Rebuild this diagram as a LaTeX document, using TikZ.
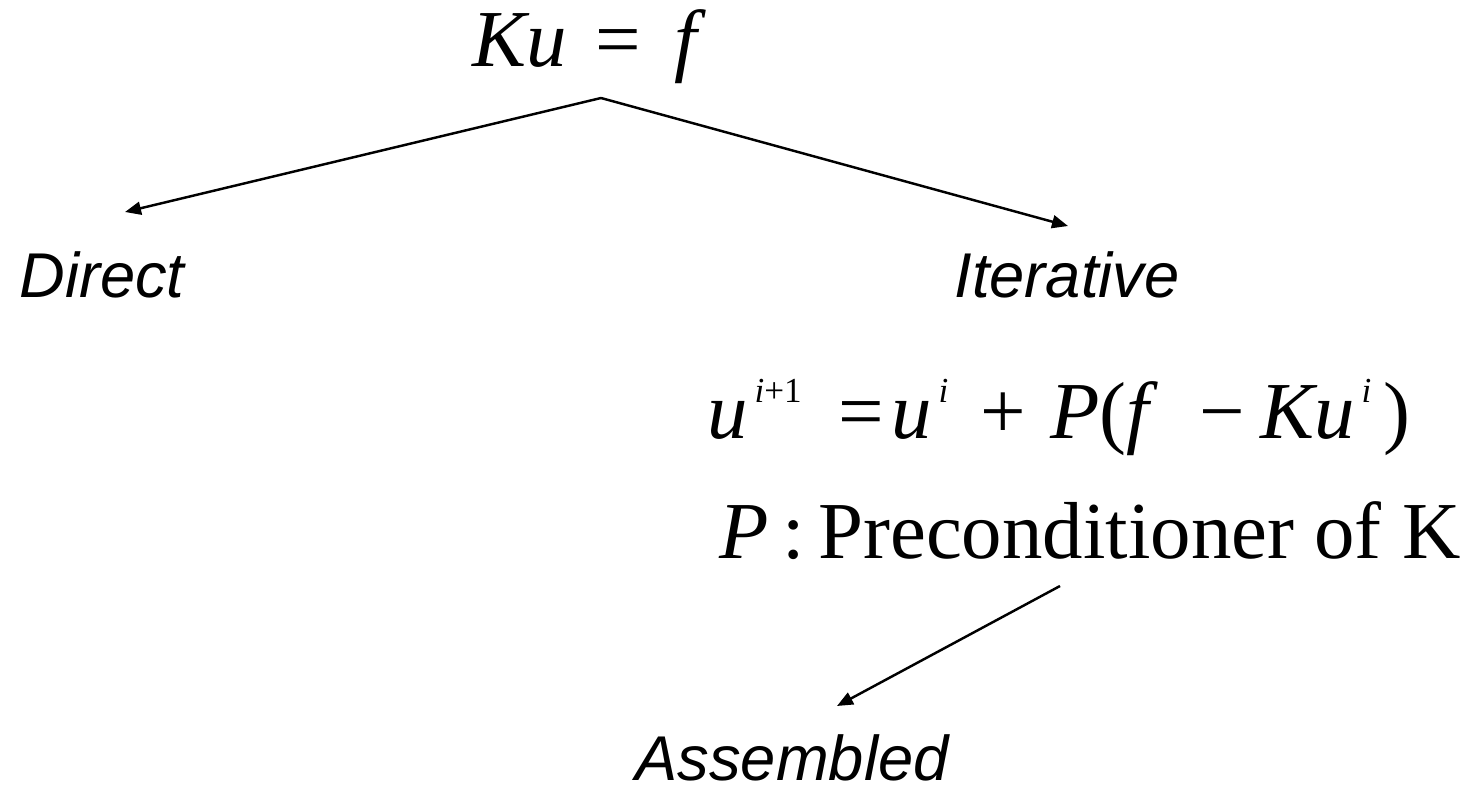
\documentclass[tikz,border=0pt]{standalone}
\usepackage{fontspec}
\setmainfont{Liberation Serif}
\newfontfamily\arialfont{Liberation Sans}
\usetikzlibrary{arrows.meta}
\newcommand{\sups}[1]{\hspace{0.08em}\raisebox{10pt}{\fontsize{10}{12}\selectfont#1}}
\tikzset{
  >={Triangle[length=1.6mm,width=1.3mm]},
  lbl/.style={anchor=base,inner sep=0pt,font=\arialfont\itshape\fontsize{18}{21}\selectfont},
  eq/.style={anchor=base,inner sep=0pt,font=\fontsize{23}{28}\selectfont},
  every picture/.style={line width=0.7pt},
}
\begin{document}
\begin{tikzpicture}
\useasboundingbox (0,0) rectangle (14.75,-7.94);
\node[eq] (sys) at (5.895,-0.67){\textit{Ku}\hspace{0.35em}=\hspace{0.42em}\textit{f}};
\node[lbl] (direct) at (1.02,-2.97){Direct};
\node[lbl] (iter) at (10.67,-2.97){Iterative};
\node[eq] (update) at (10.59,-4.38){\textit{u}\sups{\textit{i}+1}\hspace{0.45em}=\hspace{0.1em}\textit{u}\sups{\textit{i}}\hspace{0.4em}+\hspace{0.3em}\textit{P}(\textit{f}\hspace{0.5em}−\hspace{0.2em}\textit{Ku}\sups{\textit{i}}\hspace{0.15em})};
\node[eq] (precond) at (10.90,-5.58){\textit{P}\,:\,Preconditioner of K};
\node[lbl] (asm) at (7.92,-7.80){Assembled};
\coordinate (top) at (6.01,-0.98);
\coordinate (dtip) at (1.25,-2.12);
\coordinate (itip) at (10.68,-2.26);
\coordinate (pfoot) at (10.60,-5.86);
\coordinate (atip) at (8.37,-7.06);
\draw[->] (top) -- (dtip);
\draw[->] (top) -- (itip);
\draw[->] (pfoot) -- (atip);
\end{tikzpicture}
\end{document}
